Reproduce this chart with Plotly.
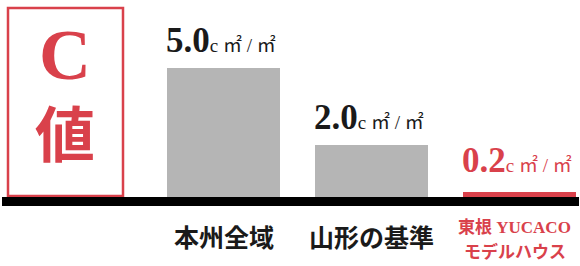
import plotly.graph_objects as go

categories = ["本州全域", "山形の基準", "東根 YUCACO<br>モデルハウス"]
values = [5.0, 2.0, 0.2]
value_labels = ["5.0", "2.0", "0.2"]
unit_label = "c ㎡ / ㎡"
bar_colors = ["#b5b5b5", "#b5b5b5", "#d9414b"]
text_colors = ["#1a1a1a", "#1a1a1a", "#d9414b"]
title_lines = ["C", "値"]

RED = "#d9414b"
SERIF = "Liberation Serif, Noto Sans CJK JP, serif"

W, H = 580, 266
base_px = 197.0
px_per_unit = 129 / 5.0
y_top = base_px / px_per_unit
y_bot = -(H - base_px) / px_per_unit
x_center0, x_step = 223.5, 148.0
x_lo = (0 - x_center0) / x_step
x_hi = (W - x_center0) / x_step
bar_w = 0.764

fig = go.Figure()
fig.add_trace(go.Bar(
    x=categories, y=values, width=bar_w,
    marker=dict(color=bar_colors, line=dict(width=0)),
    hoverinfo="skip",
))

# value labels
for c, v, lab, col in zip(categories, values, value_labels, text_colors):
    fig.add_annotation(
        x=c, y=v, xref="x", yref="y",
        text=f"<b>{lab}</b><span style='font-size:19px'>{unit_label}</span>",
        showarrow=False, xanchor="left", yanchor="bottom",
        yshift=6 if v > 0.5 else 10, xshift=-bar_w * x_step / 2 - 3,
        font=dict(family=SERIF, size=35, color=col),
    )

# category labels
for i, (c, col) in enumerate(zip(categories, text_colors)):
    parts = c.split("<br>")
    if len(parts) == 1:
        fig.add_annotation(
            x=c, y=0, xref="x", yref="y", text=f"<b>{parts[0]}</b>",
            showarrow=False, xanchor="center", yanchor="middle", yshift=-41,
            font=dict(family=SERIF, size=25, color=col),
        )
    else:
        for j, p in enumerate(parts):
            fig.add_annotation(
                x=c, y=0, xref="x", yref="y", text=f"<b>{p}</b>",
                showarrow=False, xanchor="center", yanchor="middle",
                yshift=-30 - 25 * j, xshift=-5,
                font=dict(family=SERIF, size=17, color=col),
            )

# red title box
fig.add_shape(type="rect", xref="paper", yref="paper",
              x0=8 / W, x1=123 / W, y0=1 - 196 / H, y1=1 - 8 / H,
              line=dict(color=RED, width=2.5), fillcolor="rgba(0,0,0,0)")
fig.add_annotation(xref="paper", yref="paper", x=65 / W, y=1 - 55 / H,
                   text=f"<b>{title_lines[0]}</b>", showarrow=False,
                   xanchor="center", yanchor="middle",
                   font=dict(family=SERIF, size=72, color=RED))
fig.add_annotation(xref="paper", yref="paper", x=65 / W, y=1 - 137 / H,
                   text=f"<b>{title_lines[1]}</b>", showarrow=False,
                   xanchor="center", yanchor="middle",
                   font=dict(family=SERIF, size=60, color=RED))

# baseline
fig.add_shape(type="rect", xref="paper", yref="paper",
              x0=2 / W, x1=579 / W, y0=1 - 206 / H, y1=1 - 197 / H,
              line=dict(width=0), fillcolor="#000000", layer="above")

fig.update_layout(
    width=W, height=H, autosize=False,
    margin=dict(l=0, r=0, t=0, b=0, pad=0),
    paper_bgcolor="white", plot_bgcolor="white",
    showlegend=False, bargap=0,
    xaxis=dict(range=[x_lo, x_hi], visible=False, fixedrange=True),
    yaxis=dict(range=[y_bot, y_top], visible=False, fixedrange=True),
)

fig.write_html(
    "out.html",
    config={"displayModeBar": False},
    post_script="document.body.style.margin='0';document.body.style.overflow='hidden';",
)
